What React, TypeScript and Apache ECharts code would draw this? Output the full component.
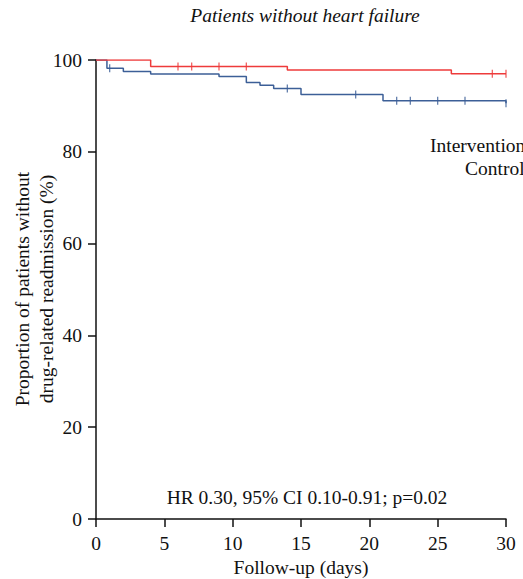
import React, { useEffect, useRef } from "react";
import * as echarts from "echarts";

const interventionTimes = [0, 4, 14, 26, 30];
const interventionSurv = [100, 98.6, 97.8, 97.0, 97.0];
const interventionCensorTimes = [6, 7, 9, 11, 29, 30];

const controlTimes = [0, 0.8, 2, 4, 9, 11, 12, 13, 15, 21, 30];
const controlSurv = [100, 98.2, 97.5, 96.95, 96.4, 95.1, 94.5, 93.8, 92.5, 91.1, 90.6];
const controlCensorTimes = [1, 14, 19, 22, 23, 25, 27, 30];

const xTicks = [0, 5, 10, 15, 20, 25, 30];
const yTicks = [0, 20, 40, 60, 80, 100];
const yNameLines = ["Proportion of patients without", "drug-related readmission (%)"];

const RED = "#ee3b3b";
const BLUE = "#3c5f97";
const FONT = "'Liberation Serif', 'Times New Roman', 'DejaVu Serif', serif";
const FS = 19.5;

function survAt(times: number[], surv: number[], t: number) {
  let v = surv[0];
  for (let i = 0; i < times.length; i++) if (times[i] <= t) v = surv[i];
  return v;
}

export default function App() {
  const ref = useRef<HTMLDivElement>(null);
  useEffect(() => {
    const chart = echarts.init(ref.current!, null, { renderer: "svg" });
    const censorSymbol = { symbol: "rect", symbolSize: [1.3, 8] as any };
    chart.setOption({
      animation: false,
      backgroundColor: "#fff",
      textStyle: { fontFamily: FONT },
      grid: { left: 96, right: 17, top: 60, bottom: 60, outerBoundsMode: "none", containLabel: false },
      title: {
        text: "Patients without heart failure",
        left: 300,
        textAlign: "center",
        top: 0,
        textStyle: { fontFamily: FONT, fontStyle: "italic", fontWeight: "normal", fontSize: FS, color: "#111" },
      },
      xAxis: {
        type: "value",
        min: 0,
        max: 30,
        interval: 5,
        name: "Follow-up (days)",
        nameLocation: "middle",
        nameGap: 36,
        nameTextStyle: { fontFamily: FONT, fontSize: FS, color: "#111" },
        axisLine: { lineStyle: { color: "#111", width: 1.5 } },
        axisTick: { inside: false, length: 8, lineStyle: { color: "#111", width: 1.5 } },
        axisLabel: { fontFamily: FONT, fontSize: FS, color: "#111", margin: 14 },
        splitLine: { show: false },
      },
      yAxis: {
        type: "value",
        min: 0,
        max: 100,
        interval: 20,
        axisLine: { show: true, lineStyle: { color: "#111", width: 1.5 } },
        axisTick: { show: true, length: 8, lineStyle: { color: "#111", width: 1.5 } },
        axisLabel: { fontFamily: FONT, fontSize: FS, color: "#111", margin: 14 },
        splitLine: { show: false },
      },
      graphic: [
        ...yNameLines.map((line, i) => ({
          type: "text",
          x: 22 + i * 24,
          y: 289,
          rotation: Math.PI / 2,
          style: {
            text: line,
            fontFamily: FONT,
            fontSize: FS,
            fill: "#111",
            textAlign: "center",
            textVerticalAlign: "middle",
          },
        })),
        {
          type: "text",
          x: 430,
          y: 145,
          style: { text: "Intervention", fontFamily: FONT, fontSize: FS, fill: "#111", textVerticalAlign: "middle" },
        },
        {
          type: "text",
          x: 465,
          y: 168,
          style: { text: "Control", fontFamily: FONT, fontSize: FS, fill: "#111", textVerticalAlign: "middle" },
        },
        {
          type: "text",
          x: 307,
          y: 497,
          style: {
            text: "HR 0.30, 95% CI 0.10-0.91; p=0.02",
            fontFamily: FONT,
            fontSize: FS,
            fill: "#111",
            textAlign: "center",
            textVerticalAlign: "middle",
          },
        },
      ],
      series: [
        {
          name: "Control",
          type: "line",
          step: "end",
          showSymbol: false,
          lineStyle: { color: BLUE, width: 1.5 },
          data: controlTimes.map((t, i) => [t, controlSurv[i]]),
          z: 2,
        },
        {
          name: "Intervention",
          type: "line",
          step: "end",
          showSymbol: false,
          lineStyle: { color: RED, width: 1.5 },
          data: interventionTimes.map((t, i) => [t, interventionSurv[i]]),
          z: 3,
        },
        {
          name: "Control censored",
          type: "scatter",
          ...censorSymbol,
          itemStyle: { color: BLUE },
          data: controlCensorTimes.map((t) => [t, survAt(controlTimes, controlSurv, t)]),
          z: 4,
        },
        {
          name: "Intervention censored",
          type: "scatter",
          ...censorSymbol,
          itemStyle: { color: RED },
          data: interventionCensorTimes.map((t) => [t, survAt(interventionTimes, interventionSurv, t)]),
          z: 5,
        },
      ],
    });
    return () => chart.dispose();
  }, []);
  return <div ref={ref} style={{ width: 523, height: 579, position: "absolute", left: 0, top: 0 }} />;
}
